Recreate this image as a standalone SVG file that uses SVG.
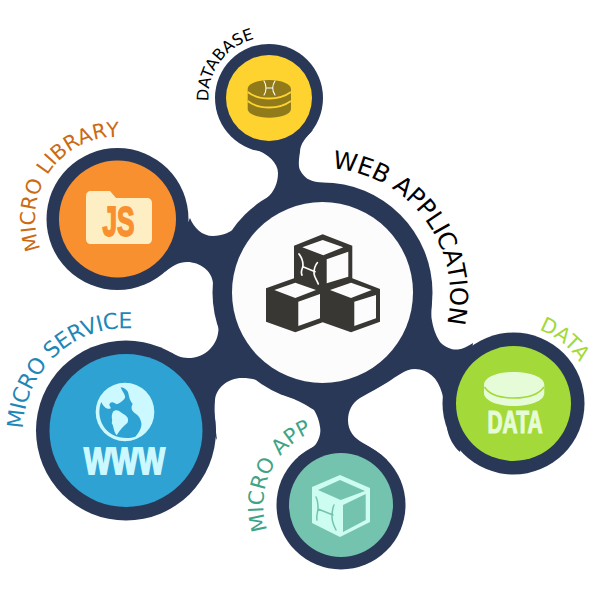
<svg xmlns="http://www.w3.org/2000/svg" width="600" height="600" viewBox="0 0 600 600">
<style>
.lbl{font-family:"DejaVu Sans","Liberation Sans",sans-serif}
.ic{font-family:"Liberation Sans",Arial,sans-serif;font-weight:bold;text-anchor:middle}
.logo{fill:none;stroke-linecap:round;stroke-linejoin:round}
</style>
<defs>
<path id="pWeb" d="M332 168.400A128 128 0 0 1 440 346"/>
<path id="pLib" d="M40.700 249A82 82 0 0 1 160 149"/>
<path id="pDb" d="M208.500 101A60.500 60.500 0 0 1 290 41"/>
<path id="pSvc" d="M23 429A103 103 0 0 1 170 338"/>
<path id="pApp" d="M267.500 530A78 78 0 0 1 360 429"/>
<path id="pData" d="M539 330A78 78 0 0 1 591 412"/>
</defs>
<g id="connectors">
<path fill="#2a3858" d="M313 130C306 137 300 144 300 152C299 158 298 166 300 170C304 178 310 181 317 182L350 187C395 197 432 245 432 296C432 305 431 312 431.500 318C433 327 435 334 440 342C446 348 452 350 458 349.500C463 349 468 346 473 343L460 452C454 447 448 437 447 427C446 415 445 403 442 393C438 378 428 369 415 369C405 369 396 377 388 382C380 387 370 392 360 398C352 403 348 411 348 420C348 431 354 438 363 443C372 448 380 453 387 460L298 457C305 452 312 449 316 444C320 438 321 432 320 426.700C319 420 317 415 314 410C305 404 298 401 290 397C277 390 264 378 242 378C228 378 216 388 215 400C214 412 215 425 217 440L170 352C176 355 181 358 188 358C206 358 219 344 218.500 327C218 312 214 298 213 283C212 271 200 262 187 262C179 262 172 266 165 272L190 218C194 228 202 236 213 236C222 236 231 232 237 227C247 216 256 206 267 198C274 192 278 183 278 173C278 163 268 154 257 150Z"/>
<circle cx="322.500" cy="292.500" r="110" fill="#2a3858"/>
</g>
<g id="center">
<circle cx="322.500" cy="292.500" r="90.500" fill="#fcfcfc"/>
<path fill="#393733" d="M322.700 234.300L352.300 245.700V278.300L380 288.900V321.700L351 332.300L322.700 322.300L295.300 332.300L266 321.700V288.300L294 278.300V245.700Z"/>
<path fill="#fcfcfc" d="M322.700 240L343.300 247.300L323.300 255.300L302.300 247.300ZM348.300 251.700V276.700L326.700 283.300V259.300ZM295.300 282.700L316 290L295.300 298L274.300 290ZM320 294V318.300L298.300 326V301.700ZM351 282.700L371.700 290L351 298L330 290ZM376 295V318.300L354.300 326V301.700Z"/>
<path class="logo" stroke="#fcfcfc" stroke-width="1.700" d="M299 254C302 258 303 261 303 265C303 269 300 271 302 275M317.300 262.700C314.500 266 314 270 314 273.300C314 277 317 280 318.300 284M303 266.700L315 271.700"/>
<text class="lbl" font-size="24.500" letter-spacing="-0.300" fill="#000"><textPath href="#pWeb">WEB APPLICATION</textPath></text>
</g>
<g id="database">
<circle cx="269" cy="98" r="54" fill="#2a3858"/>
<circle cx="269" cy="98" r="43" fill="#fed330"/>
<path fill="#917a1a" d="M247.700 89C247.700 84 257 80 269.300 80S291 84 291 89V109C291 114 281 117.700 269.300 117.700S247.700 114 247.700 109Z"/>
<path fill="none" stroke="#fed330" stroke-width="1.800" d="M247.700 92C254 97 262 98.500 269.300 98.500S284 97 291 92M247.700 101C254 106 262 107.500 269.300 107.500S284 106 291 101"/>
<path class="logo" stroke="#fcfcfc" stroke-width="1.100" d="M264 81C266 84 266 86 266 88C266 90 266 92 264 95M275 81C273 84 272.700 86 272.700 88C272.700 90 273 92 275 95M266 88H272.700"/>
<text class="lbl" font-size="16" fill="#000"><textPath href="#pDb">DATABASE</textPath></text>
</g>
<g id="micro-library">
<circle cx="117.500" cy="219" r="71" fill="#2a3858"/>
<circle cx="117.500" cy="219" r="58.500" fill="#f99030"/>
<path fill="#fdeec3" d="M91 191H110L116 198H147C150 198 152 200 152 203V239C152 242 150 244 147 244H91C88 244 86 242 86 239V196C86 193 88 191 91 191Z"/>
<text class="ic" x="118.500" y="235.500" font-size="42" fill="#f99030" stroke="#f99030" stroke-width="1.800" textLength="32" lengthAdjust="spacingAndGlyphs">JS</text>
<text class="lbl" font-size="20.500" letter-spacing="0.200" fill="#cb6a12"><textPath href="#pLib">MICRO LIBRARY</textPath></text>
</g>
<g id="micro-service">
<circle cx="126" cy="430.500" r="90" fill="#2a3858"/>
<circle cx="126" cy="430.500" r="76.500" fill="#2ea2d2"/>
<g transform="translate(90 378) scale(.3333)">
<circle cx="105" cy="102" r="88" fill="#ccf8ff"/>
<path fill="#2ea2d2" d="M92 28C105 30 115 38 116 50C118 62 122 70 128 78C122 88 124 98 134 105C146 112 152 122 154 135C156 150 146 165 136 176C118 182 90 182 68 170C45 158 30 135 28 105C28 92 30 80 34 72C40 85 48 94 60 92C66 90 58 84 58 80C60 74 64 72 68 73C74 74 78 80 82 78C88 76 100 68 105 60C108 52 96 40 92 28Z"/>
<path fill="#ccf8ff" d="M70 100C80 92 90 100 100 108C112 114 118 124 112 135C100 145 90 155 80 172C70 160 72 145 65 135C70 125 60 118 70 100Z"/>
</g>
<text class="ic" x="124.500" y="473.500" font-size="36" fill="#ccf8ff" stroke="#ccf8ff" stroke-width="1.800" textLength="81" lengthAdjust="spacingAndGlyphs">WWW</text>
<text class="lbl" font-size="22" letter-spacing="-0.600" fill="#1f87b8"><textPath href="#pSvc">MICRO SERVICE</textPath></text>
</g>
<g id="micro-app">
<circle cx="341" cy="505" r="64.500" fill="#2a3858"/>
<circle cx="341" cy="505" r="52" fill="#74c3ae"/>
<path fill="#cdfcf0" d="M340 475L370 488V522L340 537L312 523V487Z"/>
<path fill="#74c3ae" d="M340 480L365 491L340.700 500L318 490ZM365.700 494V520L343 532V505Z"/>
<path class="logo" stroke="#74c3ae" stroke-width="1.500" d="M316 497C318 501 318 505 318 508C318 512 316 516 317 520M334 505C332 509 332 513 332 517C332 521 334 526 336 530M318 509L333 515"/>
<text class="lbl" font-size="21" letter-spacing="0.200" fill="#3fa487"><textPath href="#pApp">MICRO APP</textPath></text>
</g>
<g id="data">
<circle cx="513.500" cy="403.500" r="71" fill="#2a3858"/>
<circle cx="513.500" cy="403.500" r="57.500" fill="#a3d938"/>
<path fill="#e6fcd8" d="M484 385C484 377 498 372 514 372S544.300 377 544.300 385V393C544.300 401 530 406 514 406S484 401 484 393Z"/>
<path fill="none" stroke="#a3d938" stroke-width="1.500" d="M484.500 387C489 394 500 398 514 398S539 394 544 387"/>
<text class="ic" x="515" y="432.800" font-size="31" fill="#e6fcd8" stroke="#e6fcd8" stroke-width="1.200" textLength="55" lengthAdjust="spacingAndGlyphs">DATA</text>
<text class="lbl" font-size="20.500" fill="#a3d938"><textPath href="#pData">DATA</textPath></text>
</g>
</svg>
